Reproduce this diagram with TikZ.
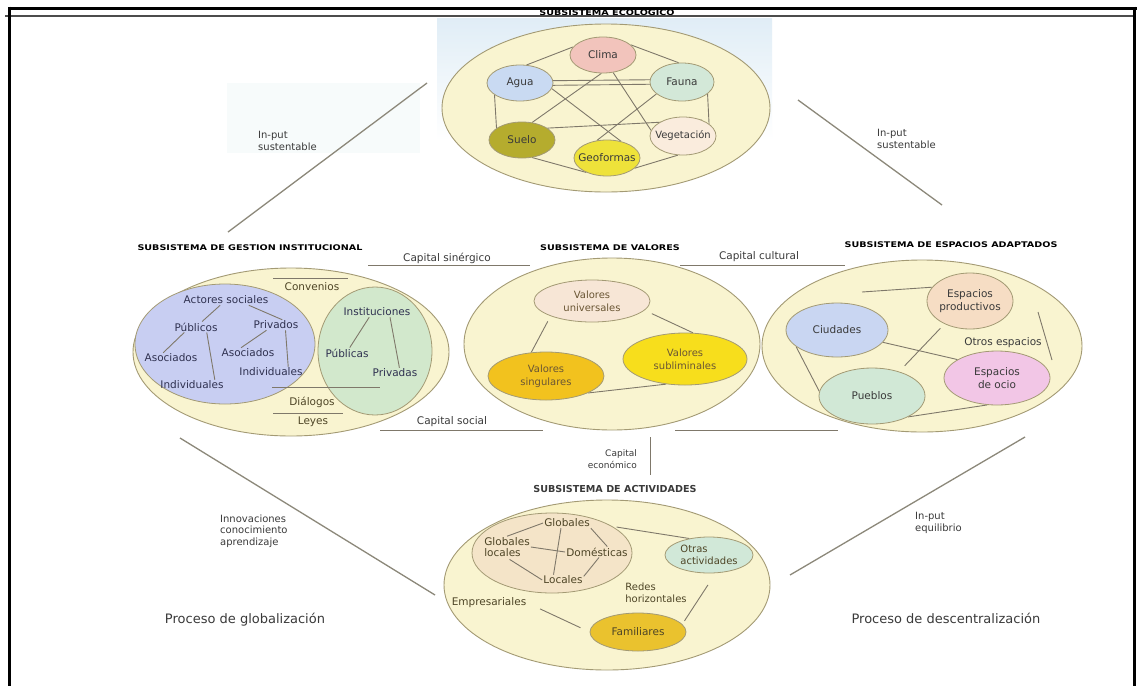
\documentclass[tikz,border=0pt]{standalone}
\usepackage{fontspec}
\setmainfont{DejaVu Sans}
\usepackage{graphicx}
\usetikzlibrary{shapes.geometric}
\definecolor{cream}{HTML}{F9F4D0}
\definecolor{ellbord}{HTML}{A39A74}
\definecolor{linec}{HTML}{7F786A}
\definecolor{diagc}{HTML}{8C887A}
\definecolor{txtc}{HTML}{3A3A3A}
\definecolor{navytxt}{HTML}{2F3150}
\definecolor{brtxt}{HTML}{6A5634}
\definecolor{oltxt}{HTML}{4E4526}
\definecolor{skyA}{HTML}{E0EDF6}
\definecolor{cyanfaint}{HTML}{F7FBFB}
\definecolor{climaC}{HTML}{F2C4BC}
\definecolor{aguaC}{HTML}{C9DAF2}
\definecolor{faunaC}{HTML}{D3E8D8}
\definecolor{sueloC}{HTML}{B5AC2E}
\definecolor{geoC}{HTML}{EEE23A}
\definecolor{vegC}{HTML}{FAECDD}
\definecolor{blueC}{HTML}{C8CEF2}
\definecolor{greenC}{HTML}{D2E8CC}
\definecolor{univC}{HTML}{F7E6D6}
\definecolor{singC}{HTML}{F2C21E}
\definecolor{sublC}{HTML}{F7DE1C}
\definecolor{prodC}{HTML}{F6DDC4}
\definecolor{ciudC}{HTML}{C9D6F2}
\definecolor{puebC}{HTML}{D1E8D6}
\definecolor{ocioC}{HTML}{F2C6E6}
\definecolor{peachC}{HTML}{F4E4C8}
\definecolor{otrasC}{HTML}{D1E8D8}
\definecolor{famC}{HTML}{EAC22E}
\pgfdeclarelayer{lzero}
\pgfdeclarelayer{lone}
\pgfdeclarelayer{ltwo}
\pgfsetlayers{lzero,lone,ltwo,main}
\newcommand{\ttlsc}[1]{\scalebox{1.23}[1]{#1}}
\begin{document}
\begin{tikzpicture}[x=1pt,y=-1pt,
  bigell/.style={ellipse,draw=ellbord,fill=cream,line width=0.9pt,inner sep=0pt},
  smell/.style={ellipse,draw=ellbord,line width=0.8pt,inner sep=0pt},
  lbl/.style={font=\fontsize{10.5}{12}\selectfont,text=txtc,inner sep=1pt,align=center},
  slbl/.style={font=\fontsize{10}{12.5}\selectfont,text=txtc,inner sep=0pt,align=left},
  ttl/.style={font=\fontsize{7.8}{9}\selectfont\bfseries,text=black,inner sep=0pt},
  conn/.style={draw=linec,line width=0.9pt},
  diag/.style={draw=diagc,line width=1.3pt},
  bigtxt/.style={font=\fontsize{13}{15}\selectfont,text=txtc,inner sep=0pt}
]
\useasboundingbox (0,0) rectangle (1138,686);

% ---------------- backgrounds and big ellipses
\begin{pgfonlayer}{lzero}
\fill[white] (0,0) rectangle (1138,686);
\fill[top color=skyA,bottom color=white] (437,18) rectangle (772,140);
\fill[cyanfaint] (227,83) rectangle (420,153);
\node[bigell,minimum width=328pt,minimum height=168pt] (eco) at (606,108) {};
\node[bigell,minimum width=316pt,minimum height=168pt] (gestion) at (291,352) {};
\node[bigell,minimum width=296pt,minimum height=172pt] (valores) at (612,344) {};
\node[bigell,minimum width=320pt,minimum height=172pt] (espacios) at (922,346) {};
\node[bigell,minimum width=326pt,minimum height=170pt] (activ) at (607,585) {};
\end{pgfonlayer}

\begin{pgfonlayer}{lone}
\node[smell,fill=blueC,minimum width=180pt,minimum height=120pt] (blue) at (225,344) {};
\node[smell,fill=greenC,minimum width=114pt,minimum height=128pt] (green) at (375,351) {};
\node[smell,fill=peachC,minimum width=160pt,minimum height=80pt] (actpeach) at (552,553) {};
\end{pgfonlayer}

% ---------------- ecological subsystem
\node[smell,fill=climaC,minimum width=66pt,minimum height=36pt] (clima) at (603,55) {};
\node[smell,fill=aguaC,minimum width=66pt,minimum height=36pt] (agua) at (520,83) {};
\node[smell,fill=faunaC,minimum width=64pt,minimum height=38pt] (fauna) at (682,82) {};
\node[smell,fill=sueloC,minimum width=66pt,minimum height=36pt] (suelo) at (522,140) {};
\node[smell,fill=geoC,minimum width=66pt,minimum height=36pt] (geo) at (607,158) {};
\node[smell,fill=vegC,minimum width=66pt,minimum height=38pt] (veg) at (683,136) {};
\node[lbl] (climaT) at (clima) {Clima};
\node[lbl] (aguaT) at (agua) {Agua};
\node[lbl] (faunaT) at (fauna) {Fauna};
\node[lbl] (sueloT) at (suelo) {Suelo};
\node[lbl] (geoT) at (geo) {Geoformas};
\node[lbl,font=\fontsize{10}{12}\selectfont] (vegT) at (veg) {Vegetación};

% ---------------- institutional management subsystem
\node[lbl,text=navytxt] (actores) at (226,300) {Actores sociales};
\node[lbl,text=navytxt] (publicos) at (196,327) {Públicos};
\node[lbl,text=navytxt] (privados) at (276,325) {Privados};
\node[lbl,text=navytxt] (asocL) at (171,358) {Asociados};
\node[lbl,text=navytxt] (asocR) at (248,353) {Asociados};
\node[lbl,text=navytxt] (indivL) at (192,385) {Individuales};
\node[lbl,text=navytxt] (indivR) at (271,372) {Individuales};
\node[lbl,text=navytxt] (instit) at (377,312) {Instituciones};
\node[lbl,text=navytxt] (publicas) at (347,353) {Públicas};
\node[lbl,text=navytxt] (privadas) at (395,373) {Privadas};
\node[lbl,text=oltxt] (convenios) at (312,287) {Convenios};
\node[lbl,text=oltxt] (dialogos) at (312,402) {Diálogos};
\node[lbl,text=oltxt] (leyes) at (313,422) {Leyes};

% ---------------- values subsystem
\node[smell,fill=univC,minimum width=116pt,minimum height=42pt] (univ) at (592,301) {};
\node[smell,fill=singC,minimum width=116pt,minimum height=48pt] (sing) at (546,376) {};
\node[smell,fill=sublC,minimum width=124pt,minimum height=52pt] (subl) at (685,359) {};
\node[lbl,text=brtxt,font=\fontsize{10}{13}\selectfont] (univT) at (univ) {Valores\\universales};
\node[lbl,text=brtxt,font=\fontsize{10}{13}\selectfont] (singT) at (sing) {Valores\\singulares};
\node[lbl,text=brtxt,font=\fontsize{10}{13}\selectfont] (sublT) at (subl) {Valores\\subliminales};

% ---------------- adapted spaces subsystem
\node[smell,fill=prodC,minimum width=86pt,minimum height=56pt] (esprod) at (970,301) {};
\node[smell,fill=ciudC,minimum width=102pt,minimum height=54pt] (ciudades) at (837,330) {};
\node[smell,fill=puebC,minimum width=106pt,minimum height=56pt] (pueblos) at (872,396) {};
\node[smell,fill=ocioC,minimum width=106pt,minimum height=54pt] (ocio) at (997,378) {};
\node[lbl,font=\fontsize{10.5}{13.5}\selectfont] (esprodT) at (esprod) {Espacios\\productivos};
\node[lbl] (ciudadesT) at (ciudades) {Ciudades};
\node[lbl] (pueblosT) at (pueblos) {Pueblos};
\node[lbl,font=\fontsize{10.5}{13.5}\selectfont] (ocioT) at (ocio) {Espacios\\de ocio};
\node[lbl] (otrosesp) at (1003,343) {Otros espacios};

% ---------------- activities subsystem
\node[lbl,text=oltxt] (globales) at (567,523) {Globales};
\node[lbl,text=oltxt,align=left,font=\fontsize{10.5}{11}\selectfont] (globloc) at (507,547) {Globales\\locales};
\node[lbl,text=oltxt] (domesticas) at (597,552) {Domésticas};
\node[lbl,text=oltxt] (locales) at (563,580) {Locales};
\node[lbl,text=oltxt] (empres) at (489,603) {Empresariales};
\node[lbl,text=oltxt,align=left,font=\fontsize{10}{12}\selectfont] (redes) at (656,593) {Redes\\horizontales};
\node[smell,fill=otrasC,minimum width=88pt,minimum height=36pt] (otras) at (709,555) {};
\node[smell,fill=famC,minimum width=96pt,minimum height=38pt] (famil) at (638,632) {};
\node[lbl,text=oltxt,align=left,font=\fontsize{10}{12}\selectfont] (otrasT) at (otras) {Otras\\actividades};
\node[lbl,text=oltxt] (familT) at (famil) {Familiares};

% ---------------- titles
\node[ttl] (tEco) at (607,12) {\ttlsc{SUBSISTEMA ECOLÓGICO}};
\node[ttl] (tGes) at (250,248) {\ttlsc{SUBSISTEMA DE GESTION INSTITUCIONAL}};
\node[ttl] (tVal) at (610,248) {\ttlsc{SUBSISTEMA DE VALORES}};
\node[ttl] (tEsp) at (951,245) {\ttlsc{SUBSISTEMA DE ESPACIOS ADAPTADOS}};
\node[ttl,font=\fontsize{9.6}{11}\selectfont\bfseries,text=txtc] (tAct) at (615,489) {SUBSISTEMA DE ACTIVIDADES};

% ---------------- flow labels
\node[lbl] (capsin) at (447,258) {Capital sinérgico};
\node[lbl] (capsoc) at (452,422) {Capital social};
\node[lbl] (capcul) at (759,257) {Capital cultural};
\node[slbl,align=right,font=\fontsize{9}{12}\selectfont,anchor=east] (capeco) at (637,459) {Capital\\económico};
\node[slbl,anchor=west] (inL) at (258,141) {In-put\\sustentable};
\node[slbl,anchor=west] (inR) at (877,139) {In-put\\sustentable};
\node[slbl,anchor=west,font=\fontsize{10}{11.5}\selectfont] (innov) at (220,531) {Innovaciones\\conocimiento\\aprendizaje};
\node[slbl,anchor=west] (inEq) at (915,523) {In-put\\equilibrio};
\node[bigtxt] (pglob) at (245,620) {Proceso de globalización};
\node[bigtxt] (pdesc) at (946,618) {Proceso de descentralización};

% ---------------- free connector ends
\coordinate (dgA1) at (228,232);
\coordinate (dgA2) at (427,83);
\coordinate (dgB1) at (798,100);
\coordinate (dgB2) at (942,205);
\coordinate (dgC1) at (180,438);
\coordinate (dgC2) at (435,595);
\coordinate (dgD1) at (790,575);
\coordinate (dgD2) at (1025,437);
\coordinate (csA) at (368,265);
\coordinate (csB) at (530,265);
\coordinate (soA) at (380,430);
\coordinate (soB) at (543,430);
\coordinate (cuA) at (680,265);
\coordinate (cuB) at (845,265);
\coordinate (rbA) at (675,430);
\coordinate (rbB) at (838,430);
\coordinate (ceA) at (650,437);
\coordinate (ceB) at (650,475);
\coordinate (cvA) at (273,278);
\coordinate (cvB) at (348,278);
\coordinate (dlA) at (272,387);
\coordinate (dlB) at (380,387);
\coordinate (lyA) at (273,413);
\coordinate (lyB) at (343,413);
\coordinate (spA) at (862,292);
\coordinate (rvA) at (1038,312);
\coordinate (rvB) at (1052,360);

\begin{pgfonlayer}{ltwo}
% ecological links
\draw[conn] (agua.70) -- (clima.165);
\draw[conn] (clima.20) -- (fauna.100);
\draw[conn] (agua.4) -- (fauna.176);
\draw[conn] (agua.-4) -- (fauna.-176);
\draw[conn] (agua.205) -- (suelo.155);
\draw[conn] (fauna.-25) -- (veg.25);
\draw[conn] (clima.265) -- (suelo.60);
\draw[conn] (clima.-60) -- (veg.170);
\draw[conn] (agua.-10) -- (geo.50);
\draw[conn] (fauna.205) -- (geo.120);
\draw[conn] (suelo.25) -- (veg.40);
\draw[conn] (suelo.-60) -- (geo.215);
\draw[conn] (geo.-20) -- (veg.255);
% institutional links
\draw[conn] (actores) -- (publicos);
\draw[conn] (actores.-13) -- (privados.40);
\draw[conn] (publicos.205) -- (asocL.146);
\draw[conn] (publicos.-27) -- (indivL.13);
\draw[conn] (privados.209) -- (asocR.143);
\draw[conn] (privados.-29) -- (indivR.17);
\draw[conn] (instit.214) -- (publicas.63);
\draw[conn] (instit.-22) -- (privadas.50);
\draw[conn] (cvA) -- (cvB);
\draw[conn] (dlA) -- (dlB);
\draw[conn] (lyA) -- (lyB);
% values links
\draw[conn,shorten <=6pt] (univ.200) -- (sing.122);
\draw[conn,shorten <=8pt] (univ.-10) -- (subl.73);
\draw[conn] (sing.-22) -- (subl.233);
% spaces links
\draw[conn] (spA) -- (esprod.160);
\draw[conn] (ciudades.-15) -- (ocio.155);
\draw[conn,shorten <=8pt,shorten >=6pt] (pueblos.42) -- (esprod.222);
\draw[conn] (rvA) -- (rvB);
\draw[conn] (ciudades.202) -- (pueblos.175);
\draw[conn] (pueblos.-30) -- (ocio.250);
% activities links
\draw[conn] (globales.west) -- (globloc.north);
\draw[conn] (globales.south east) -- (domesticas.28);
\draw[conn] (globales.221) -- (locales.151);
\draw[conn] (globloc.east) -- (domesticas.west);
\draw[conn,shorten <=3pt] (globloc.south) -- (locales.west);
\draw[conn] (locales.10) -- (domesticas.-70);
\draw[conn,shorten <=26pt] (globales.east) -- (otras.140);
\draw[conn,shorten <=14pt,shorten >=10pt] (empres.east) -- (famil.west);
\draw[conn,shorten <=14pt,shorten >=4pt] (otras.-70) -- (famil.10);
% capitals
\draw[conn] (csA) -- (csB);
\draw[conn] (soA) -- (soB);
\draw[conn] (cuA) -- (cuB);
\draw[conn] (rbA) -- (rbB);
\draw[conn] (ceA) -- (ceB);
% big diagonals
\draw[diag] (dgA1) -- (dgA2);
\draw[diag] (dgB1) -- (dgB2);
\draw[diag] (dgC1) -- (dgC2);
\draw[diag] (dgD1) -- (dgD2);
\end{pgfonlayer}

% ---------------- frame
\draw[line width=3pt,black] (8,8) -- (1137,8);
\draw[line width=1.5pt,black!70] (5,16) -- (1135,16);
\draw[line width=3pt,black] (9.5,6.5) -- (9.5,686);
\draw[line width=2.6pt,black] (1134.5,6.5) -- (1134.5,686);
\end{tikzpicture}
\end{document}
